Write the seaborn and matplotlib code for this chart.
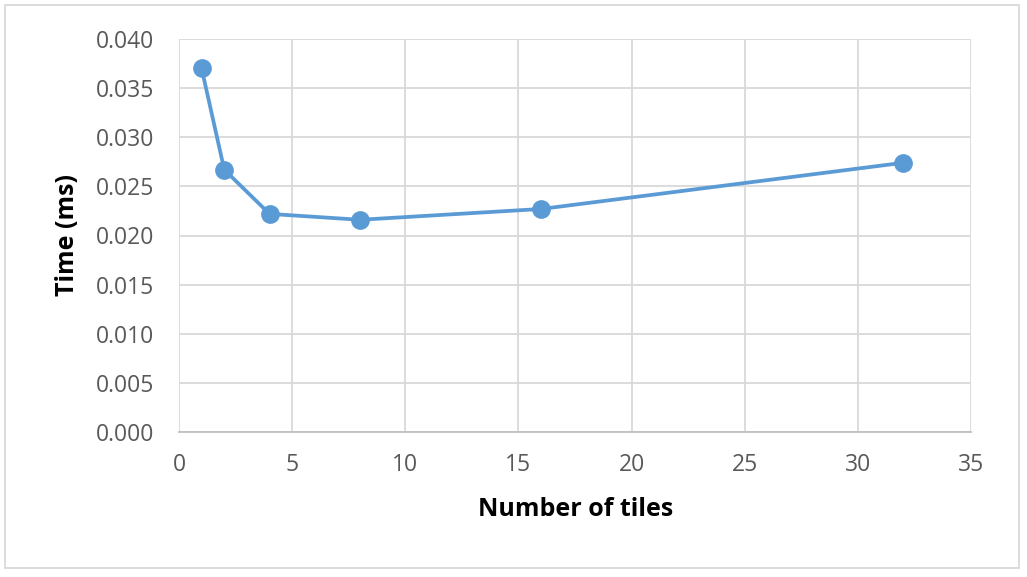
import matplotlib
matplotlib.use("Agg")
import matplotlib.pyplot as plt
import pandas as pd
import seaborn as sns
from matplotlib.patches import Rectangle

# data
tiles = [1, 2, 4, 8, 16, 32]
time_ms = [0.0370, 0.0267, 0.0222, 0.0216, 0.0227, 0.0274]

x_ticks = [0, 5, 10, 15, 20, 25, 30, 35]
y_ticks = [0.000, 0.005, 0.010, 0.015, 0.020, 0.025, 0.030, 0.035, 0.040]

LINE_COLOR = "#5B9BD5"
GRID_COLOR = "#D9D9D9"
TICK_COLOR = "#595959"

sns.set_theme(style="whitegrid")
plt.rcParams["font.family"] = ["Open Sans", "DejaVu Sans"]

df = pd.DataFrame({"tiles": tiles, "time": time_ms})

fig = plt.figure(figsize=(10.27, 5.77), dpi=100)
ax = fig.add_axes([179 / 1027, 1 - 432 / 577, (971 - 179) / 1027, (432 - 39) / 577])

sns.lineplot(
    data=df,
    x="tiles",
    y="time",
    color=LINE_COLOR,
    lw=2.7,
    marker="o",
    markersize=13.5,
    markeredgewidth=0,
    ax=ax,
    zorder=3,
)

ax.set_xlim(0, 35)
ax.set_ylim(0, 0.040)
ax.set_xticks(x_ticks)
ax.set_yticks(y_ticks)
ax.set_xticklabels([str(t) for t in x_ticks])
ax.set_yticklabels([f"{t:.3f}" for t in y_ticks])
ax.tick_params(axis="both", labelsize=16.5, labelcolor=TICK_COLOR, length=0)
ax.tick_params(axis="x", pad=15)
ax.tick_params(axis="y", pad=18)
ax.grid(True, color=GRID_COLOR, lw=1.3)
ax.set_facecolor("white")
for side in ("top", "right", "left"):
    ax.spines[side].set_visible(False)
ax.spines["bottom"].set_color("#BFBFBF")
ax.spines["bottom"].set_linewidth(1.3)

ax.set_xlabel("Number of tiles", fontsize=18, fontweight="bold", color="black")
ax.set_ylabel("Time (ms)", fontsize=18, fontweight="bold", color="black")
ax.xaxis.set_label_coords(0.501, -0.165)
ax.yaxis.set_label_coords(-0.125, 0.5)

# chart area border
fig.patches.append(
    Rectangle((5 / 1027, 1 - 568 / 577), 1014 / 1027, 563 / 577,
              transform=fig.transFigure, fill=False, edgecolor="#D9D9D9", lw=1.3)
)

fig.savefig("out.png", dpi=100)
